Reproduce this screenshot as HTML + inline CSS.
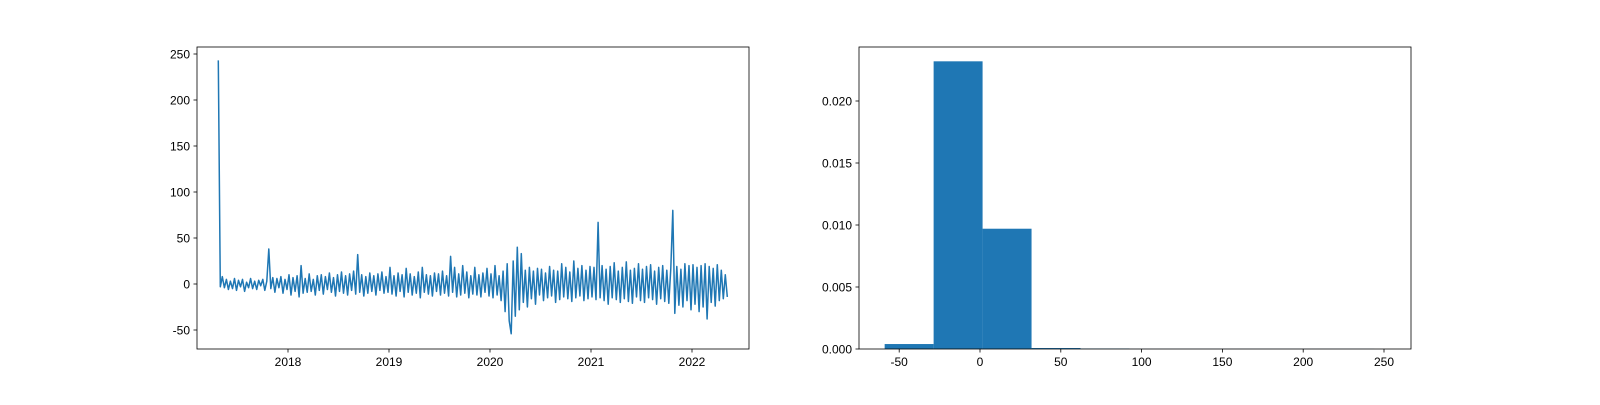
<!DOCTYPE html>
<html><head><meta charset="utf-8"><style>
body{margin:0;background:#fff}
svg text{font-family:"Liberation Sans",sans-serif;font-size:12px;fill:#000}
</style></head><body>
<svg id="fig" width="1600" height="400" xmlns="http://www.w3.org/2000/svg">
<g id="left"></g>
<g id="right"></g>
</svg>
<script>
const startYear = 2017.31, stepYear = 0.02;
const seriesValues = [
243,-3,8,-4,5,-6,3,-5,6,-7,4,-3,5,-8,2,-4,6,-5,3,-6,4,-2,5,-7,3,
38,-5,7,-9,6,-4,8,-10,5,-6,
10,-12,7,-8,9,-14,20,-10,6,-9,11,-8,5,-12,9,-7,10,-11,8,-6,12,-9,7,-13,10,
-8,13,-10,9,-12,11,-7,14,-11,32,-9,10,-13,8,-10,12,-8,9,-12,11,-7,13,-10,8,-9,
18,-11,9,-13,12,-8,10,-14,17,-9,11,-12,8,-10,13,-15,18,-9,10,-11,9,-13,12,-8,11,
-12,14,-10,9,-13,30,-9,18,-14,11,-12,20,-10,13,-15,9,-11,18,-12,10,-14,12,-9,17,-13,
11,-15,20,-12,9,-18,14,-30,22,-40,-54,25,-35,40,-28,33,-20,15,-25,18,-16,14,-22,17,-12,
16,-18,12,-15,19,-13,15,-20,14,-17,22,-14,18,-16,13,-19,25,-15,17,-13,20,-18,15,-16,19,
-14,18,-17,67,-15,20,-18,16,-22,19,-15,23,-17,14,-20,18,-16,24,-19,15,-21,17,-14,22,-18,
16,-20,19,-15,21,-17,14,-22,18,-16,20,-19,15,-21,17,80,-32,19,-23,16,-25,22,-18,20,-28,
21,-22,18,-30,20,-25,22,-38,19,-20,17,-24,21,-18,15,-16,10,-14];
const xTickYears = [2018,2019,2020,2021,2022];
const yTicksLeft = [-50,0,50,100,150,200,250];
const binEdges = [-59,-28.7,1.6,31.9,62.2,92.5,122.8,153.1,183.4,213.7,244];
const binDensity = [0.0004,0.0232,0.0097,0.00008,0.00004,0.00001,0.00001,0.00001,0.00001,0.00001];
const xTicksRight = [-50,0,50,100,150,200,250];
const yTicksRight = [0,0.005,0.010,0.015,0.020];
const yTickLabelsRight = ["0.000","0.005","0.010","0.015","0.020"];

const NS="http://www.w3.org/2000/svg";
function mk(p,t,a){const e=document.createElementNS(NS,t);for(const k in a)e.setAttribute(k,a[k]);p.appendChild(e);return e;}
function axes(g,L,T,R,B,xt,xs,xl,yt,ys,yl){
  for(let i=0;i<xt.length;i++){const x=xs(xt[i]);
    const tk=mk(g,'line',{x1:x,x2:x,y1:B,y2:B+3.5,stroke:'#000','stroke-width':0.8});
    
    const t=mk(g,'text',{x:x,y:B+17,'text-anchor':'middle'});t.textContent=xl[i];
    }
  for(let i=0;i<yt.length;i++){const y=ys(yt[i]);
    const tk=mk(g,'line',{x1:L-3.5,x2:L,y1:y,y2:y,stroke:'#000','stroke-width':0.8});
    
    const t=mk(g,'text',{x:L-7,y:y+4.5,'text-anchor':'end'});t.textContent=yl[i];
    }
  const f=mk(g,'rect',{x:L,y:T,width:R-L,height:B-T,fill:'none',stroke:'#000','stroke-width':0.8});
  
}
// left
(function(){
  const g=document.getElementById('left');const L=197,R=749,T=47,B=349;
  const xs=v=>288+(v-2018)*101; const ys=v=>284-v*0.92;
  let pts=seriesValues.map((v,i)=>xs(startYear+i*stepYear).toFixed(1)+','+ys(v).toFixed(1)).join(' ');
  const pl=mk(g,'polyline',{points:pts,fill:'none',stroke:'#1f77b4','stroke-width':1.5,'stroke-linejoin':'round'});
  
  axes(g,L,T,R,B,xTickYears,xs,xTickYears.map(String),yTicksLeft,ys,yTicksLeft.map(String));
})();
// right
(function(){
  const g=document.getElementById('right');const L=859,R=1411,T=47,B=349;
  const xs=v=>980+v*1.616; const ys=v=>349-v*12400;
  for(let i=0;i<binDensity.length;i++){
    const x0=xs(binEdges[i]),x1=xs(binEdges[i+1]),y=ys(binDensity[i]);
    const r=mk(g,'rect',{x:x0,y:y,width:x1-x0,height:B-y,fill:'#1f77b4'});
    
  }
  axes(g,L,T,R,B,xTicksRight,xs,xTicksRight.map(String),yTicksRight,ys,yTickLabelsRight);
})();
</script>
</body></html>
